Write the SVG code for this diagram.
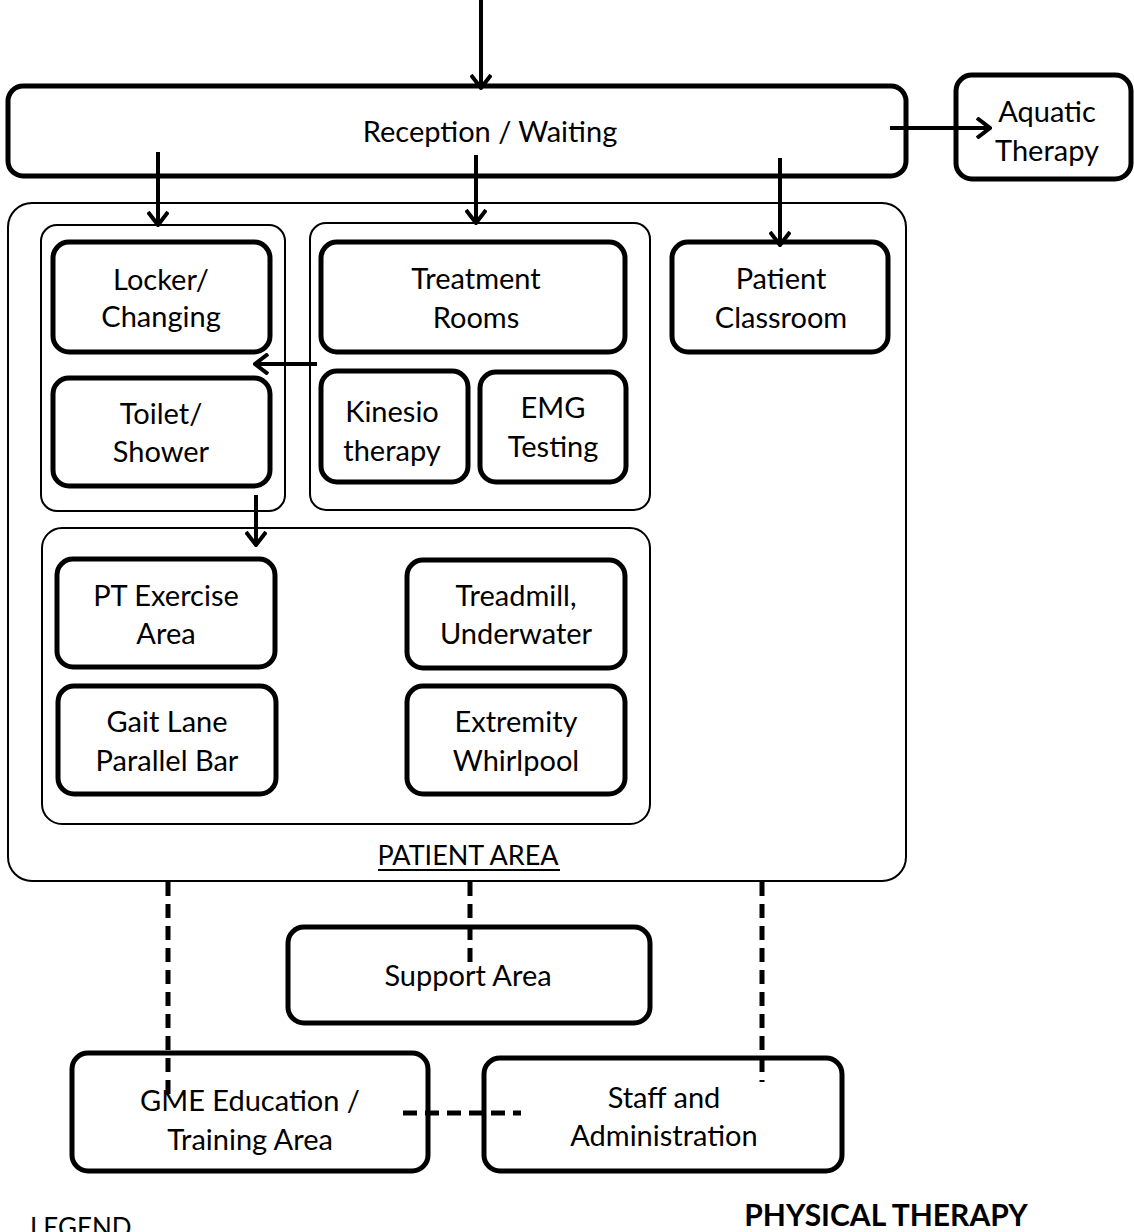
<svg xmlns="http://www.w3.org/2000/svg" width="1134" height="1232" viewBox="0 0 1134 1232">
<style>
text{font-family:Lato,"Open Sans","Liberation Sans",sans-serif;font-size:29px;fill:#000;text-anchor:middle}
.n{fill:#fff;stroke:#000;stroke-width:5}
.g{fill:none;stroke:#000;stroke-width:2}
.a{stroke:#000;stroke-width:4;fill:none}
.d{stroke:#000;stroke-width:5;fill:none;stroke-dasharray:14 8}
</style>
<defs>
<marker id="ah" viewBox="0 0 16 22" refX="14" refY="11" markerWidth="16" markerHeight="22" markerUnits="userSpaceOnUse" orient="auto">
<path d="M1,1 L14,11 L1,21" fill="none" stroke="#000" stroke-width="4"/>
</marker>
</defs>
<rect width="1134" height="1232" fill="#fff"/>
<g id="patient-area">
<rect class="g" x="8" y="203" width="898" height="678" rx="24"/>
<text x="468" y="865" style="font-size:27px">PATIENT AREA</text>
<line x1="378" y1="870" x2="560" y2="870" stroke="#000" stroke-width="2"/>
</g>
<g id="group-left"><rect class="g" x="41" y="225" width="244" height="286" rx="16"/></g>
<g id="group-mid"><rect class="g" x="310" y="223" width="340" height="287" rx="16"/></g>
<g id="group-bottom"><rect class="g" x="42" y="528" width="608" height="296" rx="20"/></g>
<g id="reception"><rect class="n" x="8" y="86" width="898" height="90" rx="15"/><text x="490" y="142">Reception / Waiting</text></g>
<g id="aquatic"><rect class="n" x="956" y="75" width="175" height="104" rx="16" stroke-width="4"/><text x="1047" y="122">Aquatic</text><text x="1047" y="161">Therapy</text></g>
<g id="locker"><rect class="n" x="53" y="242" width="217" height="110" rx="16"/><text x="161" y="290">Locker/</text><text x="161" y="327">Changing</text></g>
<g id="toilet"><rect class="n" x="53" y="378" width="217" height="108" rx="16"/><text x="161" y="424">Toilet/</text><text x="161" y="462">Shower</text></g>
<g id="treatment"><rect class="n" x="321" y="242" width="304" height="110" rx="16"/><text x="476" y="289">Treatment</text><text x="476" y="328">Rooms</text></g>
<g id="kinesio"><rect class="n" x="321" y="371" width="147" height="111" rx="16"/><text x="392" y="422">Kinesio</text><text x="392" y="461">therapy</text></g>
<g id="emg"><rect class="n" x="480" y="372" width="146" height="110" rx="16"/><text x="553" y="418">EMG</text><text x="553" y="457">Testing</text></g>
<g id="classroom"><rect class="n" x="672" y="242" width="216" height="110" rx="16"/><text x="781" y="289">Patient</text><text x="781" y="328">Classroom</text></g>
<g id="pt-exercise"><rect class="n" x="57" y="559" width="218" height="108" rx="16"/><text x="166" y="606">PT Exercise</text><text x="166" y="644">Area</text></g>
<g id="gait"><rect class="n" x="58" y="686" width="218" height="108" rx="16"/><text x="167" y="732">Gait Lane</text><text x="167" y="771">Parallel Bar</text></g>
<g id="treadmill"><rect class="n" x="407" y="560" width="218" height="108" rx="16"/><text x="516" y="606">Treadmill,</text><text x="516" y="644">Underwater</text></g>
<g id="whirlpool"><rect class="n" x="407" y="686" width="218" height="108" rx="16"/><text x="516" y="732">Extremity</text><text x="516" y="771">Whirlpool</text></g>
<g id="support"><rect class="n" x="288" y="927" width="362" height="96" rx="16"/><text x="468" y="986">Support Area</text></g>
<g id="gme"><rect class="n" x="72" y="1053" width="356" height="118" rx="16"/><text x="250" y="1111">GME Education /</text><text x="250" y="1150">Training Area</text></g>
<g id="staff"><rect class="n" x="484" y="1058" width="358" height="113" rx="16"/><text x="664" y="1108">Staff and</text><text x="664" y="1146">Administration</text></g>
<g id="connectors">
<line class="a" x1="481" y1="0" x2="481" y2="88" marker-end="url(#ah)"/>
<line class="a" x1="890" y1="128" x2="990" y2="128" stroke-width="5" marker-end="url(#ah)"/>
<line class="a" x1="158" y1="152" x2="158" y2="225" marker-end="url(#ah)"/>
<line class="a" x1="476" y1="155" x2="476" y2="223" marker-end="url(#ah)"/>
<line class="a" x1="780" y1="158" x2="780" y2="245" marker-end="url(#ah)"/>
<line class="a" x1="317" y1="364" x2="255" y2="364" marker-end="url(#ah)"/>
<line class="a" x1="256" y1="495" x2="256" y2="545" marker-end="url(#ah)"/>
<line class="d" x1="168" y1="882" x2="168" y2="1098"/>
<line class="d" x1="470" y1="882" x2="470" y2="965"/>
<line class="d" x1="762" y1="882" x2="762" y2="1082"/>
<line class="d" x1="403" y1="1113" x2="521" y2="1113"/>
</g>
<g id="legend"><text x="30" y="1237" style="text-anchor:start;font-size:26px">LEGEND</text></g>
<g id="title"><text x="886" y="1226" style="font-weight:bold;font-size:30px">PHYSICAL THERAPY</text></g>
</svg>
